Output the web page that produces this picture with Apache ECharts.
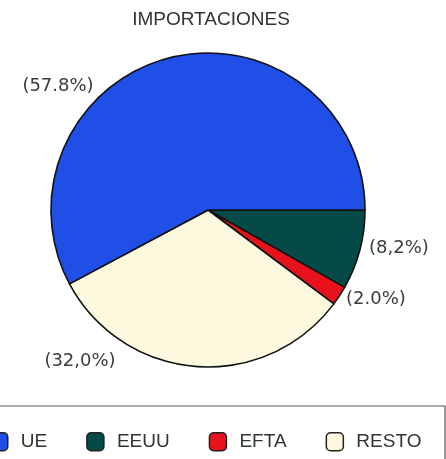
<!DOCTYPE html>
<html>
<head>
<meta charset="utf-8">
<script src="https://cdn.jsdelivr.net/npm/echarts@6/dist/echarts.min.js"></script>
<style>html,body{margin:0;padding:0;background:#fff;}#c{width:446px;height:459px;}</style>
</head>
<body>
<div id="c"></div>
<script>
var titleText = 'IMPORTACIONES';
var categories = ['EEUU', 'EFTA', 'RESTO', 'UE'];
var values = [8.2, 2.0, 32.0, 57.8];
var labelTexts = ['(8,2%)', '(2.0%)', '(32,0%)', '(57.8%)'];
var legendOrder = ['UE', 'EEUU', 'EFTA', 'RESTO'];
var colors = ['#064a47', '#e8121c', '#fdf9df', '#1f4fe6'];

var labelSpots = [
  {x: 369, y: 248, align: 'left'},
  {x: 346, y: 299, align: 'left'},
  {x: 80, y: 361, align: 'center'},
  {x: 58, y: 86, align: 'center'}
];

var chart = echarts.init(document.getElementById('c'));
chart.setOption({
  animation: false,
  title: {
    text: titleText, left: 206, top: 5, textAlign: 'center',
    textStyle: {fontFamily: 'Liberation Sans', fontSize: 19, fontWeight: 'normal', color: '#333'}
  },
  graphic: [{
    type: 'rect', shape: {x: -5, y: 406, width: 450, height: 80},
    style: {fill: 'none', stroke: '#555', lineWidth: 1.2}, z: -1
  }],
  legend: {
    data: legendOrder,
    left: -15, top: 427,
    icon: 'roundRect', itemWidth: 17, itemHeight: 18, itemGap: 39,
    textStyle: {fontFamily: 'Liberation Sans', fontSize: 19, color: '#333', padding: [0, 0, 0, 8]},
    itemStyle: {borderColor: '#222', borderWidth: 1.5}
  },
  series: [{
    type: 'pie',
    center: [208, 210], radius: 157,
    startAngle: 0, clockwise: true,
    data: categories.map(function (c, i) {
      return {name: c, value: values[i], itemStyle: {color: colors[i]}};
    }),
    itemStyle: {borderColor: '#111', borderWidth: 1.6},
    label: {
      show: true, position: 'outside', overflow: 'none', width: 200,
      formatter: function (p) { return labelTexts[p.dataIndex]; },
      fontFamily: 'DejaVu Sans', fontSize: 18, color: '#3c3c3c'
    },
    labelLine: {show: false},
    labelLayout: function (p) {
      var s = labelSpots[p.dataIndex];
      return {x: s.x, y: s.y, align: s.align, verticalAlign: 'middle'};
    },
    emphasis: {disabled: true}
  }]
});
</script>
</body>
</html>
